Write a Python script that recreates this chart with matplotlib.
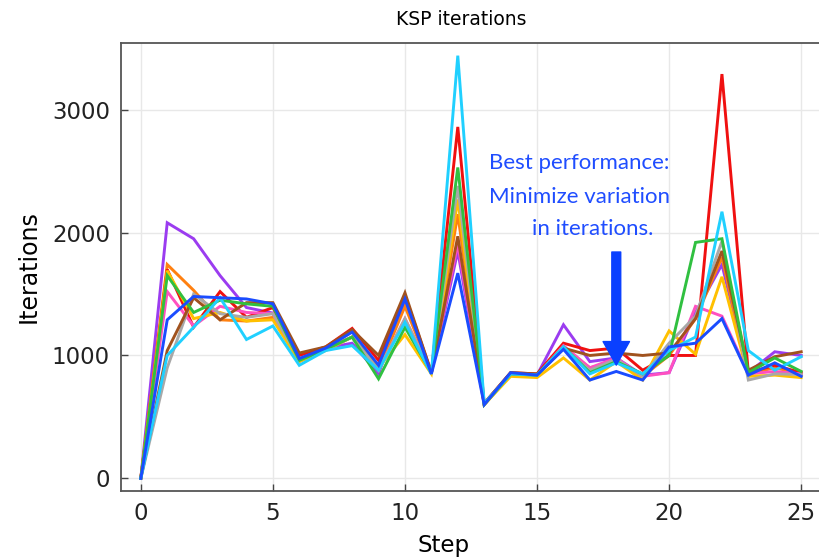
import numpy as np
import matplotlib
matplotlib.use('Agg')
import matplotlib.pyplot as plt

steps = list(range(26))

purple = [0, 2080, 1950, 1650, 1390, 1345, 960, 1060, 1100, 850, 1450, 860, 1850, 600, 850, 840, 1250, 950, 980, 840, 860, 1350, 1740, 860, 1030, 1000]
orange = [0, 1740, 1530, 1290, 1280, 1310, 960, 1060, 1150, 880, 1400, 860, 2150, 600, 850, 840, 1060, 900, 950, 830, 1000, 1300, 1800, 850, 900, 850]
red    = [0, 1700, 1230, 1520, 1310, 1390, 1000, 1070, 1220, 960, 1490, 860, 2860, 610, 860, 850, 1100, 1040, 1060, 880, 1000, 1000, 3290, 860, 920, 860]
pink   = [0, 1520, 1240, 1400, 1350, 1340, 950, 1050, 1150, 880, 1300, 860, 1910, 600, 850, 840, 1080, 900, 980, 830, 860, 1400, 1320, 850, 870, 850]
gold   = [0, 1690, 1300, 1350, 1280, 1290, 950, 1040, 1150, 900, 1170, 850, 2270, 600, 830, 820, 980, 800, 950, 800, 1200, 1010, 1640, 830, 840, 820]
gray   = [0, 900, 1500, 1340, 1310, 1340, 970, 1050, 1150, 880, 1300, 860, 2380, 600, 850, 840, 1060, 880, 970, 830, 1100, 1320, 1930, 800, 850, 845]
brown  = [0, 1040, 1470, 1290, 1430, 1430, 1020, 1070, 1210, 1000, 1510, 860, 1970, 610, 860, 850, 1060, 1000, 1020, 1000, 1020, 1300, 1850, 880, 990, 1030]
green  = [0, 1650, 1350, 1450, 1420, 1400, 960, 1050, 1150, 810, 1230, 860, 2530, 600, 850, 840, 1070, 860, 950, 850, 1000, 1920, 1950, 860, 980, 870]
cyan   = [0, 1000, 1230, 1470, 1130, 1240, 920, 1040, 1080, 880, 1270, 850, 3440, 610, 850, 840, 1070, 850, 940, 850, 1040, 1150, 2170, 1040, 880, 990]
blue   = [0, 1290, 1480, 1470, 1460, 1420, 975, 1060, 1190, 920, 1460, 850, 1670, 600, 860, 840, 1050, 800, 870, 800, 1070, 1100, 1300, 840, 940, 830]

series = [purple, orange, red, pink, gold, gray, brown, green, cyan, blue]
colors = ['#9b3cf0', '#ff8010', '#f01010', '#ff50c0', '#ffc000',
          '#a8a8a8', '#a0521e', '#30c040', '#20d0ff', '#1a4cff']

fig = plt.figure(figsize=(8.19, 5.58), dpi=100)
ax = fig.add_axes([121/819, 1 - 491/558, 700/819, 448/558])

for ys, c in zip(series, colors):
    ax.plot(steps, ys, color=c, lw=2.1, solid_joinstyle='miter')

ax.set_xlim(-0.75, 25.75)
ax.set_ylim(-103, 3543)
ax.set_xticks([0, 5, 10, 15, 20, 25])
ax.set_yticks([0, 1000, 2000, 3000])
ax.grid(True, color='#e8e8e8', lw=1)
ax.set_axisbelow(True)
ax.tick_params(direction='in', length=5, width=1, color='#444444',
               labelsize=16.5, labelcolor='#222222', pad=8)
for s in ax.spines.values():
    s.set_color('#555555')
    s.set_linewidth(1.3)

ax.set_title('KSP iterations', fontsize=13.5, pad=13, x=(461 - 121) / 700)
ax.set_xlabel('Step', fontsize=16.5, labelpad=3)
ax.xaxis.set_label_coords((444 - 121) / 700, -0.095)
ax.set_ylabel('Iterations', fontsize=17, labelpad=8)

txt_color = '#1f4dff'
ax.text(16.59, 2567, 'Best performance:', color=txt_color, fontsize=16,
        family='Lato', ha='center', va='center')
ax.text(16.59, 2290, 'Minimize variation', color=txt_color, fontsize=16,
        family='Lato', ha='center', va='center')
ax.text(17.12, 2029, 'in iterations.', color=txt_color, fontsize=16,
        family='Lato', ha='center', va='center')

ax.annotate('', xy=(18, 921), xytext=(18, 1842),
            arrowprops=dict(arrowstyle='simple,head_length=0.85,head_width=0.95,tail_width=0.32',
                            color='#0a40ff', mutation_scale=20, shrinkA=0, shrinkB=0))

fig.savefig('out.png', dpi=100)
